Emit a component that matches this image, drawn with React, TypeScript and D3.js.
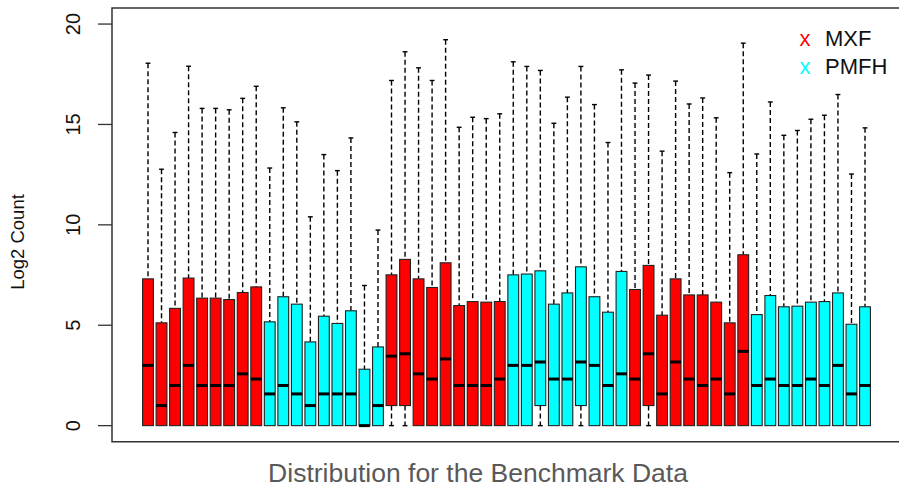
import React from 'react';
import * as d3 from 'd3';

// box statistics (log2 counts), 54 boxes in 6 runs of 9
const groups = ['MXF', 'PMFH', 'MXF', 'PMFH', 'MXF', 'PMFH'];
const boxesPerGroup = 9;

const whiskerHigh = [
  18.05, 12.77, 14.6, 17.9, 15.8, 15.8, 15.73, 16.3, 16.9,
  12.83, 15.83, 15.13, 10.4, 13.5, 12.7, 14.33, 6.98, 9.74,
  17.19, 18.62, 17.82, 17.19, 19.22, 14.86, 15.36, 15.29, 15.53,
  18.12, 17.89, 17.69, 15.06, 16.36, 17.89, 15.99, 14.1, 17.72,
  17.06, 17.46, 13.67, 17.16, 16.02, 16.32, 15.33, 12.6, 19.05,
  13.53, 16.12, 14.46, 14.7, 15.26, 15.46, 16.49, 12.53, 14.83,
];

const upperQ = [
  7.31, 5.12, 5.84, 7.35, 6.35, 6.35, 6.28, 6.63, 6.91,
  5.17, 6.42, 6.05, 4.17, 5.45, 5.09, 5.72, 2.81, 3.92,
  7.51, 8.28, 7.31, 6.88, 8.11, 5.98, 6.18, 6.15, 6.18,
  7.51, 7.55, 7.71, 6.05, 6.61, 7.91, 6.42, 5.65, 7.68,
  6.78, 7.98, 5.5, 7.31, 6.51, 6.51, 6.15, 5.12, 8.51,
  5.53, 6.48, 5.92, 5.95, 6.15, 6.18, 6.61, 5.05, 5.92,
];

const medians = [
  3, 1, 2, 3, 2, 2, 2, 2.58, 2.32,
  1.58, 2, 1.58, 1, 1.58, 1.58, 1.58, 0, 1,
  3.46, 3.58, 2.58, 2.32, 3.32, 2, 2, 2, 2.32,
  3, 3, 3.17, 2.32, 2.32, 3.17, 3, 2, 2.58,
  2.32, 3.58, 1.58, 3.17, 2.32, 2, 2.32, 1.58, 3.7,
  2, 2.32, 2, 2, 2.32, 2, 3, 1.58, 2,
];

const lowerQ = [
  0, 0, 0, 0, 0, 0, 0, 0, 0,
  0, 0, 0, 0, 0, 0, 0, 0, 0,
  1, 1, 0, 0, 0, 0, 0, 0, 0,
  0, 0, 1, 0, 0, 1, 0, 0, 0,
  0, 1, 0, 0, 0, 0, 0, 0, 0,
  0, 0, 0, 0, 0, 0, 0, 0, 0,
];

const whiskerLow = new Array(54).fill(0);

const yTicks = [0, 5, 10, 15, 20];
const legendItems = ['MXF', 'PMFH'];
const colors: Record<string, string> = { MXF: '#ff0000', PMFH: '#00ffff' };

const W = 899;
const H = 487;
const font = '"Liberation Sans", Arial, sans-serif';

export default function App() {
  const n = whiskerHigh.length;
  const pad = 0.04 * n;
  const x = d3.scaleLinear().domain([0.5 - pad, n + 0.5 + pad]).range([112, 901]);
  const y = d3.scaleLinear().domain([-0.8, 20.8]).range([441.7, 8]);
  const unit = x(1) - x(0);
  const bw = unit * 0.8;
  const sw = bw * 0.45;

  const boxes = whiskerHigh.map((hi, i) => ({
    i,
    cx: x(i + 1),
    hi,
    q3: upperQ[i],
    med: medians[i],
    q1: lowerQ[i],
    lo: whiskerLow[i],
    group: groups[Math.floor(i / boxesPerGroup)],
  }));

  return (
    <svg
      width={W}
      height={H}
      style={{ position: 'fixed', left: 0, top: 0, background: '#fff' }}
      fontFamily={font}
    >
      <rect width={W} height={H} fill="#fff" />
      {boxes.map((b) => (
        <g key={b.i}>
          {/* upper whisker */}
          <line x1={b.cx} x2={b.cx} y1={y(b.hi)} y2={y(b.q3)} stroke="#000" strokeWidth={1.4} strokeDasharray="5,3" />
          <line x1={b.cx - sw / 2} x2={b.cx + sw / 2} y1={y(b.hi)} y2={y(b.hi)} stroke="#000" strokeWidth={1.4} />
          {b.q1 > b.lo && (
            <g>
              <line x1={b.cx} x2={b.cx} y1={y(b.q1)} y2={y(b.lo)} stroke="#000" strokeWidth={1.4} strokeDasharray="5,3" />
              <line x1={b.cx - sw / 2} x2={b.cx + sw / 2} y1={y(b.lo)} y2={y(b.lo)} stroke="#000" strokeWidth={1.4} />
            </g>
          )}
          <rect
            x={b.cx - bw / 2}
            y={y(b.q3)}
            width={bw}
            height={y(b.q1) - y(b.q3)}
            fill={colors[b.group]}
            stroke="#222"
            strokeWidth={1.1}
          />
          <line x1={b.cx - bw / 2} x2={b.cx + bw / 2} y1={y(b.med)} y2={y(b.med)} stroke="#000" strokeWidth={3} />
        </g>
      ))}

      {/* frame */}
      <path d={`M901,8 H112 V441.7 H901`} fill="none" stroke="#333" strokeWidth={1.5} />

      {/* y axis */}
      {yTicks.map((t) => (
        <g key={t}>
          <line x1={98} x2={112} y1={y(t)} y2={y(t)} stroke="#333" strokeWidth={1.3} />
          <text
            transform={`translate(80,${y(t)}) rotate(-90)`}
            textAnchor="middle"
            fontSize={20}
            fill="#111"
          >
            {t}
          </text>
        </g>
      ))}
      <text transform="translate(24,242) rotate(-90)" textAnchor="middle" fontSize={18.5} fill="#111">
        Log2 Count
      </text>

      <text x={478} y={482} textAnchor="middle" fontSize={26.5} fill="#595959">
        Distribution for the Benchmark Data
      </text>

      {/* legend */}
      {legendItems.map((name, k) => (
        <g key={name} transform={`translate(0,${46 + k * 27.5})`}>
          <text x={805} y={0} textAnchor="middle" fontSize={22} fill={colors[name]}>x</text>
          <text x={825} y={0} fontSize={22} fill="#111">{name}</text>
        </g>
      ))}
    </svg>
  );
}
